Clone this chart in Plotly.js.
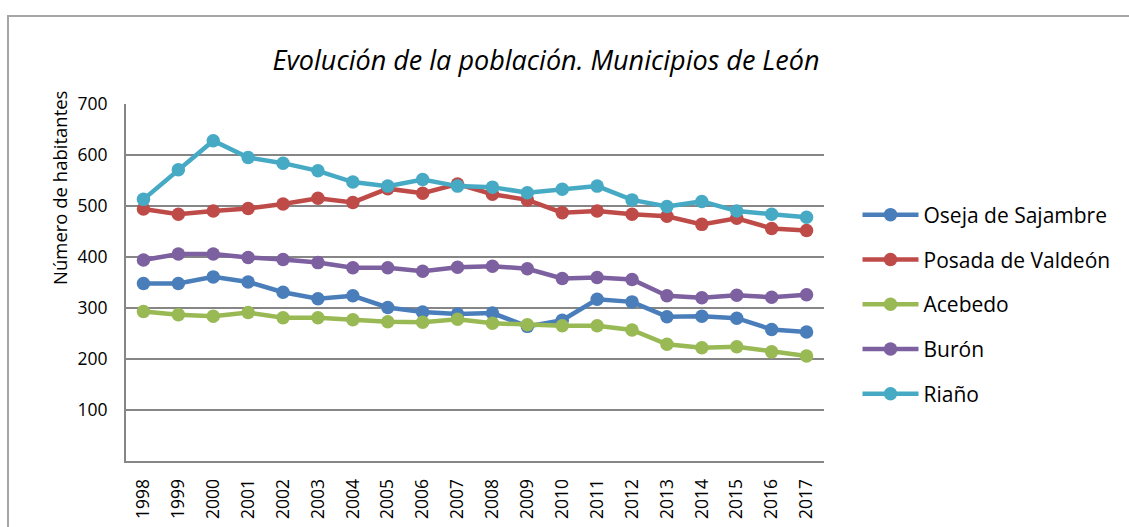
<!DOCTYPE html>
<html>
<head>
<meta charset="utf-8">
<script src="https://cdn.plot.ly/plotly-3.0.1.min.js"></script>
<style>
  html, body { margin: 0; padding: 0; background: #ffffff; }
  #wrap { position: relative; width: 1129px; height: 527px; overflow: hidden; }
  #frame { position: absolute; left: 7px; top: 15px; width: 1140px; height: 540px; border: 2px solid #a6a6a6; box-sizing: border-box; }
  #chart { position: absolute; left: 0; top: 0; width: 1129px; height: 527px; }
</style>
</head>
<body>
<div id="wrap">
  <div id="frame"></div>
  <div id="chart"></div>
</div>
<script>
const years = ["1998","1999","2000","2001","2002","2003","2004","2005","2006","2007",
               "2008","2009","2010","2011","2012","2013","2014","2015","2016","2017"];
const oseja   = [348,348,361,351,331,318,324,301,292,288,290,264,276,317,312,283,284,280,258,253];
const posada  = [494,484,490,495,504,515,507,534,525,543,523,512,487,490,484,480,464,476,456,452];
const acebedo = [293,287,284,291,281,281,277,273,272,278,270,267,265,265,257,229,222,224,214,206];
const buron   = [394,406,406,399,395,389,379,379,372,380,382,377,358,360,356,324,320,325,321,326];
const riano   = [513,571,628,595,584,569,547,539,552,539,537,526,533,539,512,499,509,490,484,478];
const seriesNames = ["Oseja de Sajambre","Posada de Valdeón","Acebedo","Burón","Riaño"];
const yTicks = [100,200,300,400,500,600,700];

const colors = ["#4a7ebb","#be4b48","#98b954","#7d60a0","#46aac5"];
const values = [oseja, posada, acebedo, buron, riano];
const FONT = "'Open Sans', Lato, sans-serif";

const traces = values.map((v, i) => ({
  type: "scatter",
  mode: "lines+markers",
  x: years,
  y: v,
  name: seriesNames[i],
  legendgroup: "g" + i,
  line: { color: colors[i], width: 4.5 },
  marker: { color: colors[i], size: 13.5 },
  hoverinfo: "x+y+name"
}));

const layout = {
  width: 1129,
  height: 527,
  margin: { l: 126, r: 305, t: 104, b: 66 },
  paper_bgcolor: "rgba(0,0,0,0)",
  plot_bgcolor: "rgba(0,0,0,0)",
  font: { family: FONT, color: "#000000", size: 16 },
  title: {
    text: "<i>Evolución de la población. Municipios de León</i>",
    font: { family: FONT, size: 27, color: "#000000" },
    x: 0.4836, xanchor: "center", xref: "container",
    y: 0.886, yanchor: "middle", yref: "container"
  },
  xaxis: {
    type: "category",
    range: [-0.5, 19.5],
    tickangle: -90,
    showgrid: false,
    showline: true,
    linecolor: "#868686",
    linewidth: 2,
    ticks: "",
    ticklabelstandoff: 9,
    tickfont: { family: FONT, size: 17.5, color: "#000000" },
    fixedrange: true
  },
  yaxis: {
    range: [0, 700],
    tickvals: yTicks,
    ticktext: yTicks.map(String),
    showgrid: true,
    gridcolor: "#868686",
    gridwidth: 1.5,
    showline: true,
    linecolor: "#868686",
    linewidth: 2,
    zeroline: false,
    ticks: "",
    ticklabelstandoff: 13,
    tickfont: { family: FONT, size: 17.5, color: "#000000" },
    fixedrange: true
  },
  showlegend: true,
  legend: {
    x: 1.048, xanchor: "left",
    y: 0.4384, yanchor: "middle",
    traceorder: "grouped",
    tracegroupgap: 14.5,
    itemwidth: 56,
    font: { family: FONT, size: 21, color: "#000000" },
    bgcolor: "rgba(0,0,0,0)"
  },
  annotations: [{
    text: "Número de habitantes",
    textangle: -90,
    xref: "paper", yref: "paper",
    x: -0.096, y: 0.7647,
    xanchor: "center", yanchor: "middle",
    showarrow: false,
    font: { family: FONT, size: 18.5, color: "#000000" }
  }]
};

Plotly.newPlot("chart", traces, layout, { displayModeBar: false, staticPlot: true });
</script>
</body>
</html>
